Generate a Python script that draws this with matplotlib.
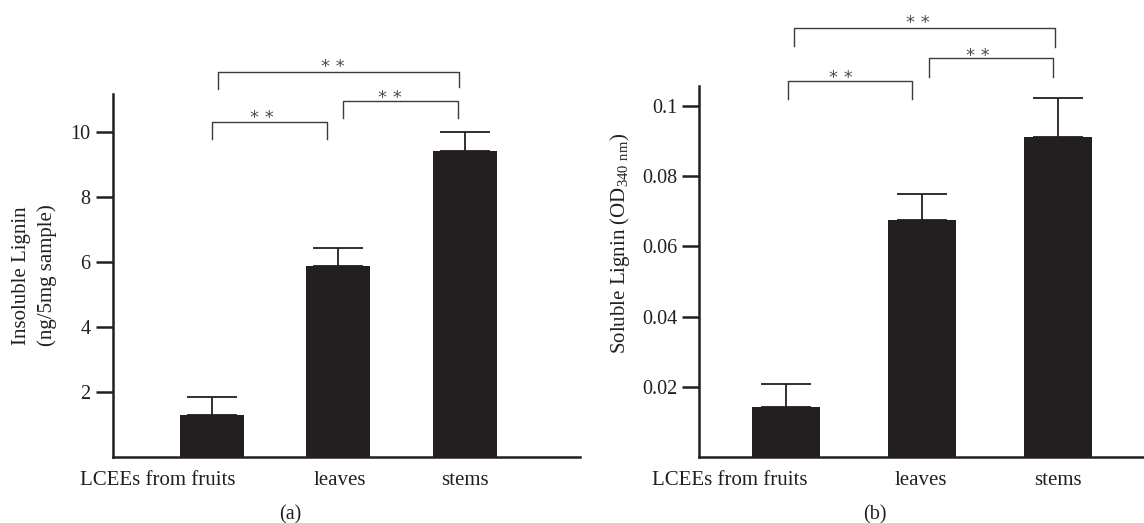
import numpy as np
import matplotlib.pyplot as plt
from matplotlib.transforms import offset_copy

plt.rcParams['font.family'] = ['Liberation Serif', 'DejaVu Serif']
plt.rcParams['mathtext.fontset'] = 'custom'
plt.rcParams['mathtext.rm'] = 'Liberation Serif'

# data
categories = ['LCEEs from fruits', 'leaves', 'stems']
insoluble = [1.27, 5.87, 9.42]
insoluble_err = [0.58, 0.57, 0.58]
soluble = [0.0142, 0.0676, 0.0913]
soluble_err = [0.0066, 0.0073, 0.0110]

# significance brackets: (x start, x end, top, leg bottom left, leg bottom right)
brackets_a = [(0.0, 0.907, 10.32, 9.79, 9.79),
              (1.038, 1.947, 10.97, 10.45, 10.45),
              (0.045, 1.955, 11.85, 11.32, 11.38)]
stars_a = [(0.393, 10.61), (1.407, 11.23), (0.957, 12.2)]
brackets_b = [(0.012, 0.923, 0.1073, 0.1020, 0.1020),
              (1.052, 1.963, 0.1137, 0.1084, 0.1084),
              (0.059, 1.975, 0.1223, 0.1173, 0.1170)]
stars_b = [(0.404, 0.1096), (1.412, 0.1161), (0.971, 0.1254)]

dark = '#231f20'
grey = '#3c3c3c'
star_grey = '#4d4d4d'

fig = plt.figure(figsize=(11.44, 5.23), dpi=100)
ax1 = fig.add_axes([0.0985, 0.1268, 0.4085, 0.6935])
ax2 = fig.add_axes([0.6113, 0.1268, 0.3887, 0.7088])


def draw_panel(ax, vals, errs, brackets, stars, width, label_pos):
    x = np.arange(len(vals))
    ax.bar(x, vals, width=width, color=dark, zorder=2)
    ax.errorbar(x, vals, yerr=[np.zeros(len(errs)), errs], fmt='none',
                ecolor=dark, elinewidth=1.3, capsize=18, capthick=1.3, zorder=1)
    for x0, x1, top, b0, b1 in brackets:
        ax.plot([x0, x0, x1, x1], [b0, top, top, b1], color=grey, lw=1.0,
                clip_on=False)
    star_tr = offset_copy(ax.transData, fig=fig, y=-7.7, units='points')
    for sx, sy in stars:
        ax.text(sx, sy, '* *', ha='center', va='baseline', fontsize=13,
                family='DejaVu Sans', color=star_grey, clip_on=False,
                transform=star_tr)
    for s in ['top', 'right']:
        ax.spines[s].set_visible(False)
    for s in ['left', 'bottom']:
        ax.spines[s].set_linewidth(1.8)
        ax.spines[s].set_color(dark)
    ax.set_xticks(label_pos)
    ax.set_xticklabels(categories, fontsize=15, color=dark)
    ax.tick_params(axis='x', length=0, pad=10)
    ax.tick_params(axis='y', length=12, width=1.8, color=dark,
                   labelsize=14.5, labelcolor=dark, pad=4)


draw_panel(ax1, insoluble, insoluble_err, brackets_a, stars_a, 0.506,
           [-0.43, 1.01, 2.0])
ax1.set_xlim(-0.785, 2.91)
ax1.set_ylim(0, 11.18)
ax1.set_yticks([2, 4, 6, 8, 10])
ax1.set_ylabel('Insoluble Lignin\n(ng/5mg sample)', fontsize=15, color=dark,
               linespacing=1.4)
ax1.yaxis.set_label_coords(-0.12, 0.5)

draw_panel(ax2, soluble, soluble_err, brackets_b, stars_b, 0.5,
           [-0.41, 0.99, 2.0])
ax2.set_xlim(-0.637, 2.63)
ax2.set_ylim(0, 0.1058)
ax2.set_yticks([0.02, 0.04, 0.06, 0.08, 0.1])
ax2.set_yticklabels(['0.02', '0.04', '0.06', '0.08', '0.1'])
ax2.set_ylabel(r'Soluble Lignin (OD$_{\mathregular{340\ nm}}$)', fontsize=15,
               color=dark)
ax2.yaxis.set_label_coords(-0.152, 0.574)

fig.text(290 / 1144, 1 - 515 / 523, '(a)', ha='center', va='center',
         fontsize=14.5, color=dark)
fig.text(875 / 1144, 1 - 515 / 523, '(b)', ha='center', va='center',
         fontsize=14.5, color=dark)

fig.savefig('out.png', dpi=100)
